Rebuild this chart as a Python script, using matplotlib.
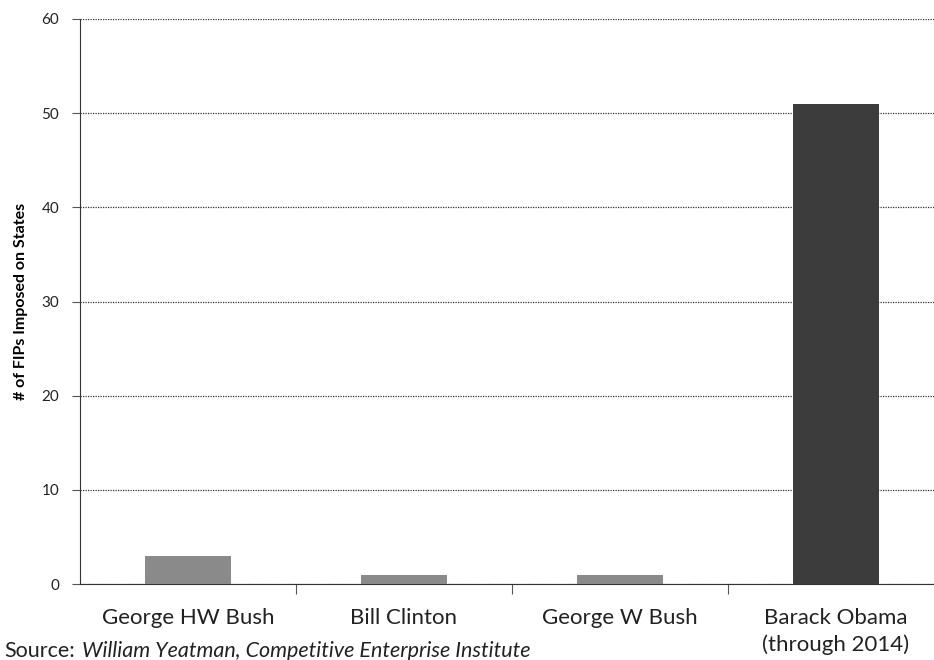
import matplotlib
matplotlib.use('Agg')
import matplotlib.pyplot as plt

# data
presidents = ['George HW Bush', 'Bill Clinton', 'George W Bush', 'Barack Obama\n(through 2014)']
fips = [3, 1, 1, 51]
bar_colours = ['#8a8a8a', '#8a8a8a', '#8a8a8a', '#3c3c3c']
y_ticks = [0, 10, 20, 30, 40, 50, 60]

plt.rcParams['font.family'] = ['Lato', 'DejaVu Sans']


def main():
    fig = plt.figure(figsize=(9.34, 6.6), dpi=100)
    # plot area runs past the right edge of the picture, like the original
    ax = fig.add_axes([80 / 934, 76 / 660, 864 / 934, 565 / 660])

    x = range(len(presidents))
    ax.bar(x, fips, width=0.40, color=bar_colours, zorder=3)

    ax.set_xlim(-0.5, len(presidents) - 0.5)
    ax.set_ylim(0, 60)
    ax.set_yticks(y_ticks)
    ax.set_yticklabels([str(t) for t in y_ticks], fontsize=11, color='#222222')

    # category labels in the middle, tick marks at the boundaries
    ax.set_xticks(list(x))
    ax.set_xticklabels(presidents, fontsize=16, color='#222222', va='top', linespacing=1.4)
    ax.tick_params(axis='x', which='major', length=0, pad=17)
    ax.set_xticks([i + 0.5 for i in x][:-1], minor=True)
    ax.tick_params(axis='x', which='minor', length=7, direction='out',
                   color='#555555', width=0.8)
    ax.tick_params(axis='y', length=6, color='#555555', pad=9)

    # dotted grid and axes like the original
    ax.yaxis.grid(True, linestyle=(0, (1, 1)), color='#333333', linewidth=0.9, zorder=0)
    for side in ['top', 'right']:
        ax.spines[side].set_visible(False)
    for side in ['left', 'bottom']:
        ax.spines[side].set_linestyle((0, (1, 1)))
        ax.spines[side].set_color('#333333')

    ax.set_ylabel('# of FIPs Imposed on States', fontsize=11.5, fontweight='bold', labelpad=10)

    src = fig.text(0.005, 0.004, 'Source:', fontsize=15.5, color='#222222')
    fig.canvas.draw()
    bb = src.get_window_extent()
    fig.text((bb.x1 + 7) / 934, 0.004, 'William Yeatman, Competitive Enterprise Institute',
             fontsize=15.5, style='italic', color='#222222')

    fig.savefig('out.png', dpi=100)


if __name__ == '__main__':
    main()
